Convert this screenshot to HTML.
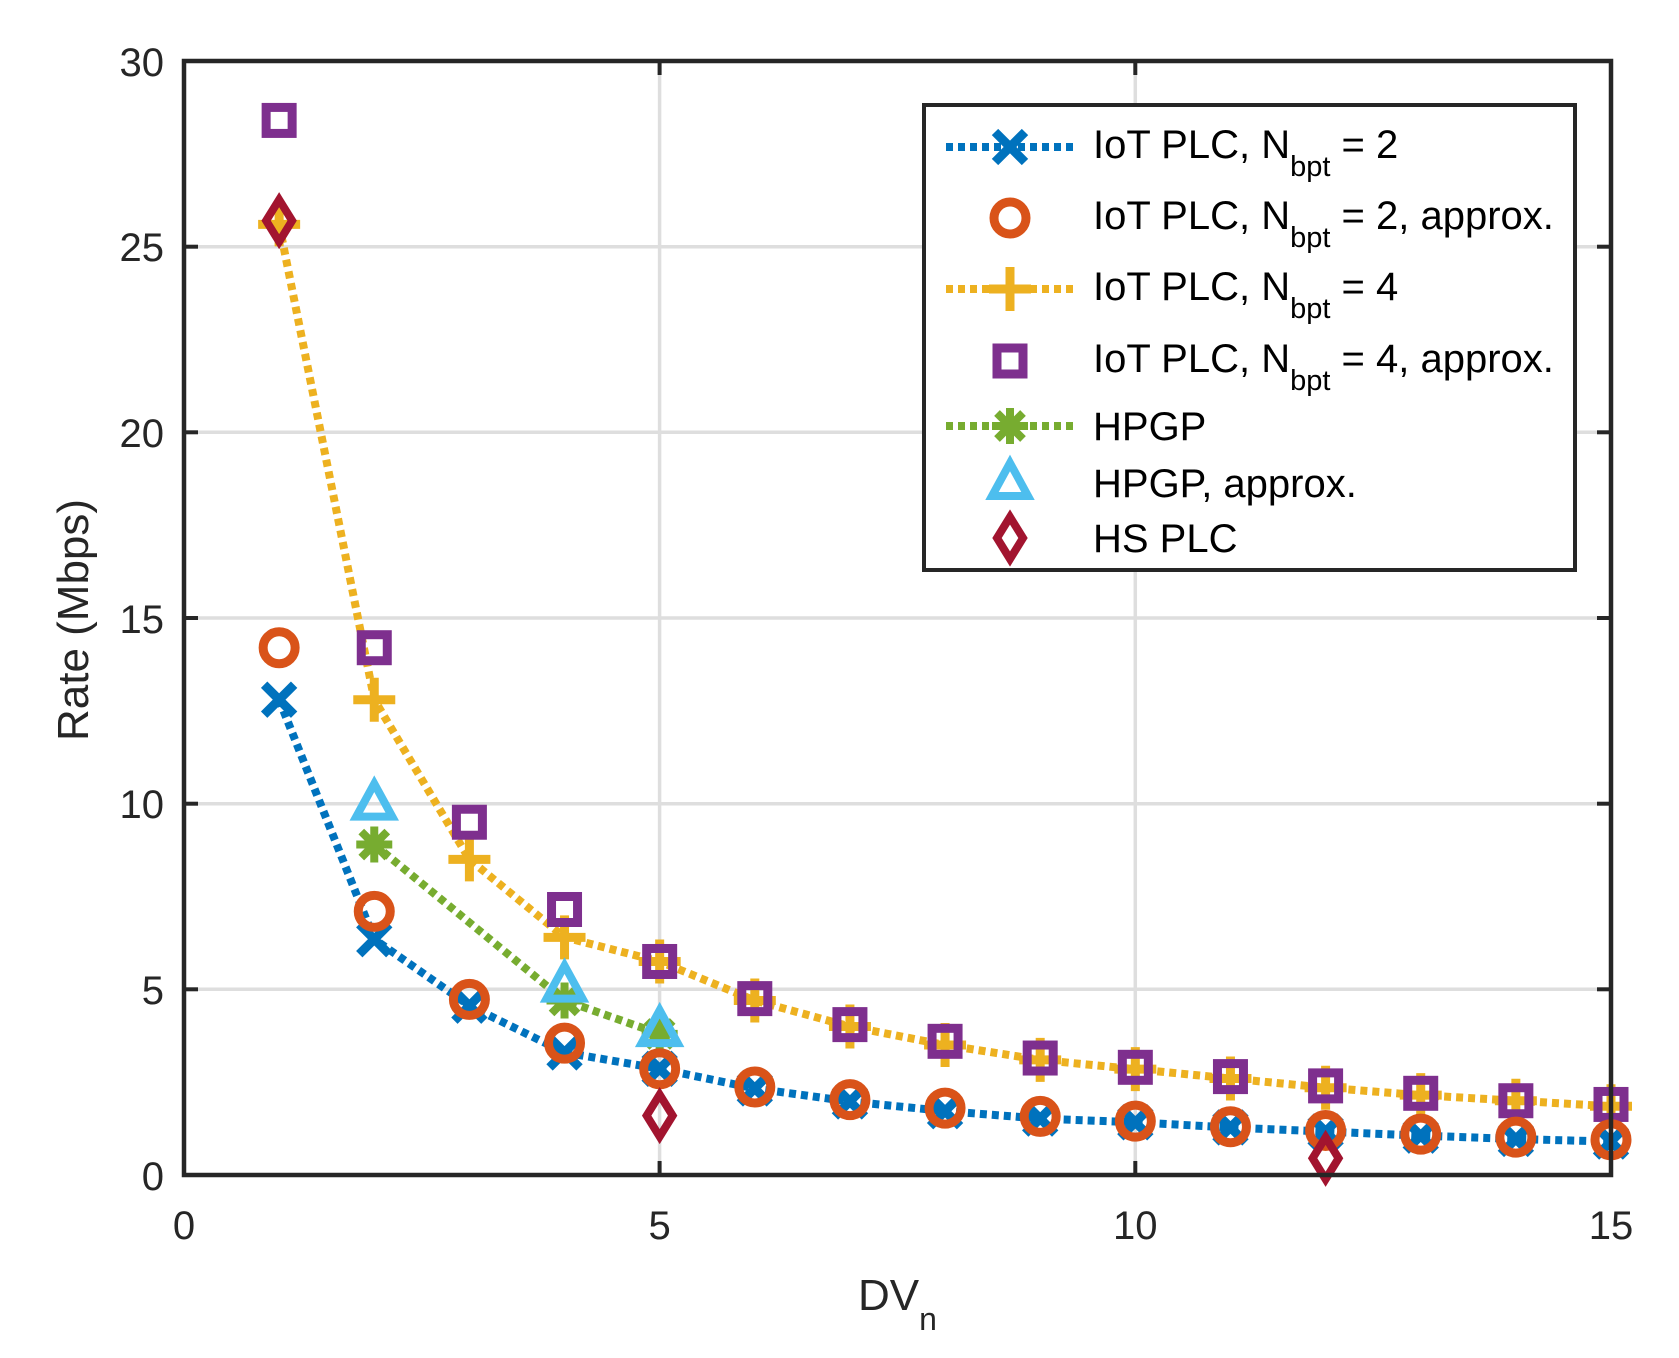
<!DOCTYPE html>
<html><head><meta charset="utf-8">
<style>
html,body{margin:0;padding:0;background:#fff;}
svg{display:block;font-family:"Liberation Sans",Arial,sans-serif;}
</style></head>
<body>
<svg id="s" width="1679" height="1358" viewBox="0 0 1679 1358" xmlns="http://www.w3.org/2000/svg">
<rect width="1679" height="1358" fill="#fff"/>
<g stroke="#dedede" stroke-width="3.5">
<line x1="659.6" y1="61" x2="659.6" y2="1175"/>
<line x1="1135.3" y1="61" x2="1135.3" y2="1175"/>
<line x1="184" y1="989.3" x2="1611" y2="989.3"/>
<line x1="184" y1="803.7" x2="1611" y2="803.7"/>
<line x1="184" y1="618" x2="1611" y2="618"/>
<line x1="184" y1="432.3" x2="1611" y2="432.3"/>
<line x1="184" y1="246.7" x2="1611" y2="246.7"/>
</g>
<g stroke="#262626" stroke-width="4">
<line x1="659.6" y1="1175" x2="659.6" y2="1161"/><line x1="1135.3" y1="1175" x2="1135.3" y2="1161"/>
<line x1="659.6" y1="61" x2="659.6" y2="75"/><line x1="1135.3" y1="61" x2="1135.3" y2="75"/>
<line x1="184" y1="989.3" x2="198" y2="989.3"/><line x1="184" y1="803.7" x2="198" y2="803.7"/><line x1="184" y1="618" x2="198" y2="618"/><line x1="184" y1="432.3" x2="198" y2="432.3"/><line x1="184" y1="246.7" x2="198" y2="246.7"/>
<line x1="1611" y1="989.3" x2="1597" y2="989.3"/><line x1="1611" y1="803.7" x2="1597" y2="803.7"/><line x1="1611" y1="618" x2="1597" y2="618"/><line x1="1611" y1="432.3" x2="1597" y2="432.3"/><line x1="1611" y1="246.7" x2="1597" y2="246.7"/>
</g>
<g id="data"></g>
<rect x="184" y="61" width="1427" height="1114" fill="none" stroke="#262626" stroke-width="4.5"/>
<g font-size="40" fill="#262626" text-anchor="end">
<text x="164" y="1190">0</text>
<text x="164" y="1004">5</text>
<text x="164" y="818">10</text>
<text x="164" y="633">15</text>
<text x="164" y="447">20</text>
<text x="164" y="261">25</text>
<text x="164" y="76">30</text>
</g>
<g font-size="40" fill="#262626" text-anchor="middle">
<text x="184" y="1239">0</text>
<text x="659.6" y="1239">5</text>
<text x="1135.3" y="1239">10</text>
<text x="1611" y="1239">15</text>
</g>
<text x="858" y="1310" font-size="44" fill="#262626">DV<tspan font-size="32" dy="20">n</tspan></text>
<text transform="translate(88,620) rotate(-90)" font-size="44" fill="#262626" text-anchor="middle">Rate (Mbps)</text>
<rect x="924" y="105" width="651" height="465" fill="#fff" stroke="#262626" stroke-width="4"/>
<g id="leg"></g>
<g font-size="40" fill="#000">
<text x="1093" y="158">IoT PLC, N<tspan font-size="29" dy="18">bpt</tspan><tspan dy="-18"> = 2</tspan></text>
<text x="1093" y="229">IoT PLC, N<tspan font-size="29" dy="18">bpt</tspan><tspan dy="-18"> = 2, approx.</tspan></text>
<text x="1093" y="300">IoT PLC, N<tspan font-size="29" dy="18">bpt</tspan><tspan dy="-18"> = 4</tspan></text>
<text x="1093" y="372">IoT PLC, N<tspan font-size="29" dy="18">bpt</tspan><tspan dy="-18"> = 4, approx.</tspan></text>
<text x="1093" y="440">HPGP</text>
<text x="1093" y="497">HPGP, approx.</text>
<text x="1093" y="552">HS PLC</text>
</g>
</svg>
<script>
var NS="http://www.w3.org/2000/svg";
function X(v){return 184+95.133*v;}
function Y(v){return 1175-37.133*v;}
function el(p,t,a){var e=document.createElementNS(NS,t);for(var k in a)e.setAttribute(k,a[k]);p.appendChild(e);return e;}
function marker(g,type,c,x,y){
 var s=15;
 if(type=='x'){el(g,'path',{d:'M'+(x-s)+' '+(y-s)+'L'+(x+s)+' '+(y+s)+'M'+(x+s)+' '+(y-s)+'L'+(x-s)+' '+(y+s),stroke:c,'stroke-width':9,fill:'none'});}
 else if(type=='o'){el(g,'circle',{cx:x,cy:y,r:16,stroke:c,'stroke-width':9,fill:'none'});}
 else if(type=='+'){el(g,'path',{d:'M'+(x-21)+' '+y+'L'+(x+21)+' '+y+'M'+x+' '+(y-22)+'L'+x+' '+(y+22),stroke:c,'stroke-width':9,fill:'none'});}
 else if(type=='s'){el(g,'rect',{x:x-13,y:y-13,width:26,height:26,stroke:c,'stroke-width':9,fill:'none'});}
 else if(type=='*'){el(g,'path',{d:'M'+(x-18)+' '+y+'L'+(x+18)+' '+y+'M'+x+' '+(y-18)+'L'+x+' '+(y+18)+'M'+(x-13)+' '+(y-13)+'L'+(x+13)+' '+(y+13)+'M'+(x+13)+' '+(y-13)+'L'+(x-13)+' '+(y+13),stroke:c,'stroke-width':8,fill:'none'});}
 else if(type=='^'){el(g,'path',{d:'M'+x+' '+(y-20)+'L'+(x+18)+' '+(y+13)+'L'+(x-18)+' '+(y+13)+'Z',stroke:c,'stroke-width':8,fill:'none','stroke-linejoin':'miter'});}
 else if(type=='d'){el(g,'path',{d:'M'+x+' '+(y-21)+'L'+(x+13)+' '+y+'L'+x+' '+(y+21)+'L'+(x-13)+' '+y+'Z',stroke:c,'stroke-width':8,fill:'none'});}
}
var series=[
 {c:'#EDB120',m:'+',line:true,x:[1,2,3,4,5,6,7,8,9,10,11,12,13,14,15],y:[25.6,12.8,8.5,6.4,5.75,4.7,4.0,3.5,3.1,2.85,2.6,2.35,2.15,2.0,1.85]},
 {c:'#7E2F8E',m:'s',line:false,x:[1,2,3,4,5,6,7,8,9,10,11,12,13,14,15],y:[28.4,14.2,9.5,7.15,5.75,4.75,4.05,3.6,3.15,2.9,2.65,2.4,2.2,2.0,1.9]},
 {c:'#77AC30',m:'*',line:true,x:[2,4,5],y:[8.9,4.7,3.8]},
 {c:'#4DBEEE',m:'^',line:false,x:[2,4,5],y:[10.0,5.1,3.9]},
 {c:'#0072BD',m:'x',line:true,x:[1,2,3,4,5,6,7,8,9,10,11,12,13,14,15],y:[12.8,6.35,4.56,3.3,2.86,2.33,1.98,1.72,1.52,1.42,1.28,1.17,1.06,0.97,0.9]},
 {c:'#D95319',m:'o',line:false,x:[1,2,3,4,5,6,7,8,9,10,11,12,13,14,15],y:[14.2,7.1,4.73,3.55,2.86,2.37,2.03,1.8,1.58,1.45,1.3,1.2,1.1,1.02,0.95]},
 {c:'#A2142F',m:'d',line:false,x:[1,5,12],y:[25.7,1.6,0.45]}
];
var g=document.getElementById('data');
series.forEach(function(s){
 if(s.line){
  var d='';
  for(var i=0;i<s.x.length;i++){d+=(i?'L':'M')+X(s.x[i]).toFixed(1)+' '+Y(s.y[i]).toFixed(1);}
  el(g,'path',{d:d,stroke:s.c,'stroke-width':8,fill:'none','stroke-dasharray':'7 5','stroke-linejoin':'round'});
 }
 for(var i=0;i<s.x.length;i++)marker(g,s.m,s.c,X(s.x[i]),Y(s.y[i]));
});
var lg=document.getElementById('leg');
var rows=[['#0072BD','x',true,147],['#D95319','o',false,218],['#EDB120','+',true,289],['#7E2F8E','s',false,361],['#77AC30','*',true,426],['#4DBEEE','^',false,483],['#A2142F','d',false,538]];
rows.forEach(function(r){
 if(r[2])el(lg,'line',{x1:946,y1:r[3],x2:1073,y2:r[3],stroke:r[0],'stroke-width':8,'stroke-dasharray':'7 5'});
 marker(lg,r[1],r[0],1010,r[3]);
});
</script>
</body></html>
